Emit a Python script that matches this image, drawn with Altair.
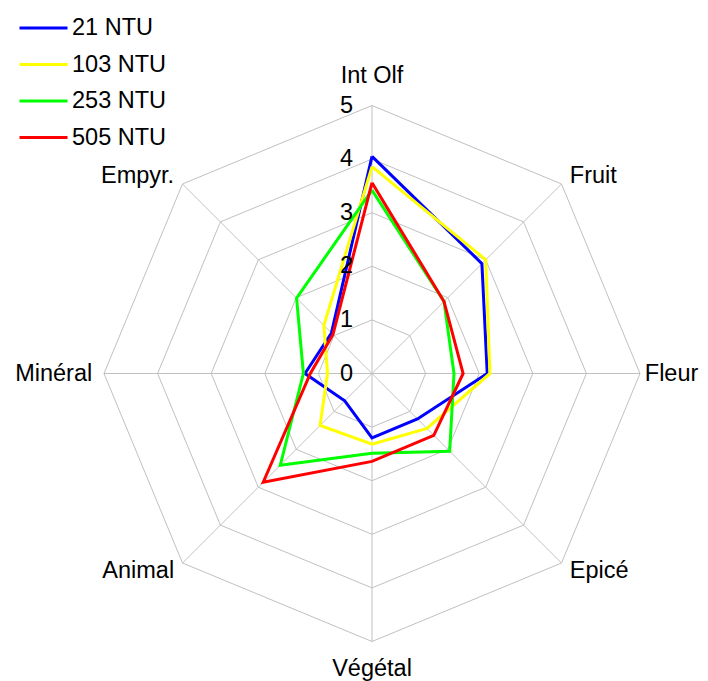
import altair as alt
import pandas as pd

categories = ["Int Olf", "Fruit", "Fleur", "Epicé", "Végétal", "Animal", "Minéral", "Empyr."]
series_names = ["21 NTU", "103 NTU", "253 NTU", "505 NTU"]
colors = ["#0000FF", "#FFFF00", "#00FF00", "#FF0000"]
v21 = [4.05, 2.9, 2.15, 1.2, 1.2, 0.72, 1.25, 1.07]
v103 = [3.86, 3.0, 2.2, 1.45, 1.32, 1.37, 0.83, 1.27]
v253 = [3.42, 1.9, 1.53, 2.05, 1.49, 2.42, 1.28, 1.99]
v505 = [3.56, 1.9, 1.7, 1.63, 1.64, 2.87, 1.15, 1.03]
levels = [0, 1, 2, 3, 4, 5]
tick_labels = ["0", "1", "2", "3", "4", "5"]

FONT = "Liberation Sans"
FS = 23.5

# series table (closed polygons)
rows = []
for name, vals in zip(series_names, [v21, v103, v253, v505]):
    for i in range(len(categories) + 1):
        rows.append({"series": name, "i": i, "v": vals[i % len(categories)]})
series_df = pd.DataFrame(rows)

grid_rows = []
for lv in levels[1:]:
    for i in range(len(categories) + 1):
        grid_rows.append({"level": lv, "i": i, "v": lv})
grid_df = pd.DataFrame(grid_rows)

spoke_df = pd.DataFrame({"i": list(range(len(categories))), "v": [levels[-1]] * len(categories)})
tick_df = pd.DataFrame({"label": tick_labels, "v": levels})
cat_df = pd.DataFrame({"cat": categories, "i": list(range(len(categories)))})

W, H = 692, 673
CX, CY, U = 364.0, 365.5, 53.6
xs = alt.Scale(domain=[-CX / U, (W - CX) / U], nice=False, zero=False)
ys = alt.Scale(domain=[-(H - CY) / U, CY / U], nice=False, zero=False)

def polar(ch, r="datum.v"):
    return ch.transform_calculate(
        ang="datum.i * PI / 4",
    ).transform_calculate(
        px=f"({r}) * sin(datum.ang)",
        py=f"({r}) * cos(datum.ang)",
    )

X = alt.X("px:Q", scale=xs, axis=None)
Y = alt.Y("py:Q", scale=ys, axis=None)

grid = polar(alt.Chart(grid_df)).mark_line(color="#c0c0c0", strokeWidth=1).encode(
    x=X, y=Y, detail="level:N", order="i:Q"
)

spokes = polar(alt.Chart(spoke_df)).transform_calculate(zx="0", zy="0").mark_rule(
    color="#c0c0c0", strokeWidth=1
).encode(
    x=alt.X("zx:Q", scale=xs, axis=None), y=alt.Y("zy:Q", scale=ys, axis=None),
    x2="px:Q", y2="py:Q"
)

lines = polar(alt.Chart(series_df)).mark_line(strokeWidth=3).encode(
    x=X, y=Y, order="i:Q",
    color=alt.Color(
        "series:N",
        scale=alt.Scale(domain=series_names, range=colors),
        sort=series_names,
        legend=alt.Legend(
            title=None, orient="none", legendX=10, legendY=3,
            symbolType="stroke", symbolSize=2304, symbolStrokeWidth=3,
            clipHeight=34, rowPadding=2.5, labelOffset=3,
            labelFont=FONT, labelFontSize=FS, labelColor="black", padding=0,
        ),
    ),
)

ticks = alt.Chart(tick_df).transform_calculate(px="0", py="datum.v").mark_text(
    font=FONT, fontSize=FS, align="right", baseline="middle", dx=-19, color="black"
).encode(x=X, y=Y, text="label:N")

def cat_layer(filter_expr, align, dx, dy):
    return polar(alt.Chart(cat_df).transform_filter(filter_expr), r="5.22").mark_text(
        font=FONT, fontSize=FS, align=align, baseline="middle", dx=dx, dy=dy, color="black"
    ).encode(x=X, y=Y, text="cat:N")

lab_top = cat_layer("datum.i == 0", "center", 0, -18)
lab_bot = cat_layer("datum.i == 4", "center", 0, 16)
lab_right = cat_layer("datum.i == 1 || datum.i == 3", "left", 0, 0)
lab_fleur = cat_layer("datum.i == 2", "left", -7, 0)
lab_left = cat_layer("datum.i > 4", "right", 0, 0)

chart = alt.layer(grid, spokes, lines, ticks, lab_top, lab_bot, lab_right, lab_fleur, lab_left).properties(
    width=W, height=H, padding=0, autosize="none"
).configure_view(strokeWidth=0)

chart.save("out.html", embed_options={"renderer": "svg", "actions": False})
